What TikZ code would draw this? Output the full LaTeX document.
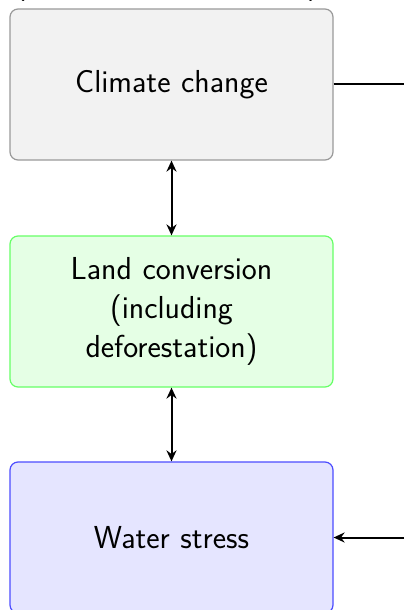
\documentclass[tikz,border=0pt]{standalone}
\usepackage{fontspec}
\usetikzlibrary{arrows.meta}
\begin{document}
\begin{tikzpicture}[x=0.5pt,y=-0.5pt,
  box/.style={draw, rounded corners=4pt, line width=0.6pt,
    minimum width=161.5pt, minimum height=75.5pt, align=center,
    text width=150pt, inner sep=0pt,
    font=\sffamily\fontsize{15.9pt}{19.3pt}\selectfont},
  greybox/.style={box, draw=gray!80, fill=gray!10},
  greenbox/.style={box, draw=green!60, fill=green!10},
  bluebox/.style={box, draw=blue!70, fill=blue!10},
  link/.style={line width=1pt},
  tip/.style={-{Stealth[length=5.5pt,width=5pt,inset=1.8pt]}},
  tips/.style={{Stealth[length=5.5pt,width=5pt,inset=1.8pt]}-{Stealth[length=5.5pt,width=5pt,inset=1.8pt]}}]
  \useasboundingbox (0,0) rectangle (404,610);
  \clip (0,0) rectangle (404,610);

  % caption line running off the top edge
  \node[anchor=base, inner sep=0pt, font=\sffamily\fontsize{15.9pt}{19.3pt}\selectfont]
    (cap) at (167,-6.8) {(including deforestation)};

  \node[greybox]  (climate) at (171.5,84.5)  {Climate change};
  \node[greenbox] (land)    at (171.5,311.5) {Land conversion\\(including\\deforestation)};
  \node[bluebox]  (water)   at (171.5,537.5) {Water stress};

  \coordinate (outR) at (404,84.5);
  \coordinate (inR)  at (404,537.5);

  \draw[link, tips] (climate.south) -- (land.north);
  \draw[link, tips] (land.south) -- (water.north);
  \draw[link] (climate.east) -- (outR);
  \draw[link, tip] (inR) -- (water.east);
\end{tikzpicture}
\end{document}
